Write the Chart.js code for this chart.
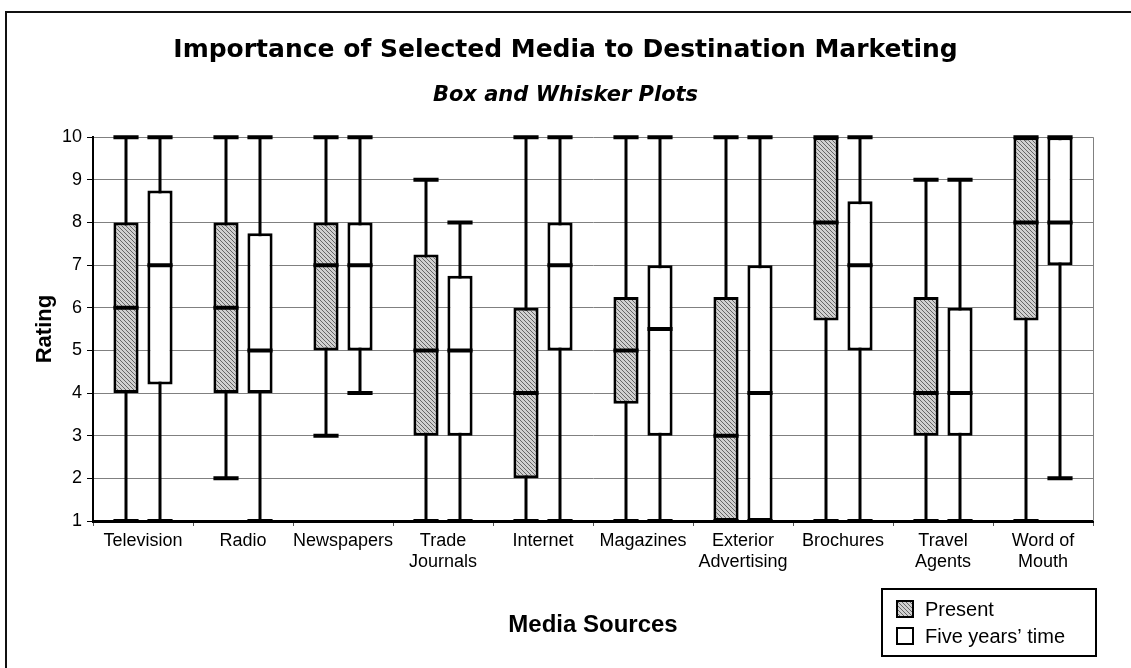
<!DOCTYPE html>
<html>
<head>
<meta charset="utf-8">
<title>Importance of Selected Media to Destination Marketing</title>
<script src="https://cdn.jsdelivr.net/npm/chart.js@4.4.1/dist/chart.umd.min.js"></script>
<style>
  html, body { margin: 0; padding: 0; overflow: hidden; background: #fff; }
  #frame {
    position: absolute; left: 5px; top: 11px;
    width: 1300px; height: 800px;
    border: 2px solid #111;
  }
  #wrap { position: absolute; left: 0; top: 0; width: 1131px; height: 668px; }
</style>
</head>
<body>
<div id="frame"></div>
<div id="wrap"><canvas id="boxChart"></canvas></div>
<script>
// Categorias e valores (escala 1 a 10)
const categories = ['Television', 'Radio', 'Newspapers', ['Trade', 'Journals'], 'Internet', 'Magazines',
    ['Exterior', 'Advertising'], 'Brochures', ['Travel', 'Agents'], ['Word of', 'Mouth']];

const presentMin    = [1, 2, 3, 1, 1, 1, 1, 1, 1, 1];
const presentQ1     = [4, 4, 5, 3, 2, 3.75, 1, 5.7, 3, 5.7];
const presentMedian = [6, 6, 7, 5, 4, 5, 3, 8, 4, 8];
const presentQ3     = [8, 8, 8, 7.25, 6, 6.25, 6.25, 10, 6.25, 10];
const presentMax    = [10, 10, 10, 9, 10, 10, 10, 10, 9, 10];

const futureMin    = [1, 1, 4, 1, 1, 1, 1, 1, 1, 2];
const futureQ1     = [4.2, 4, 5, 3, 5, 3, 1, 5, 3, 7];
const futureMedian = [7, 5, 7, 5, 7, 5.5, 4, 7, 4, 8];
const futureQ3     = [8.75, 7.75, 8, 6.75, 8, 7, 7, 8.5, 6, 10];
const futureMax    = [10, 10, 10, 8, 10, 10, 10, 10, 9, 10];

const yTicks = [1, 2, 3, 4, 5, 6, 7, 8, 9, 10];

const FONT = '"Liberation Sans", Arial, sans-serif';

// Hachura cinza diagonal para a série "Present"
function makeHatch() {
    const tile = document.createElement('canvas');
    tile.width = 4;
    tile.height = 4;
    const c = tile.getContext('2d');
    c.fillStyle = '#d0d0d0';
    c.fillRect(0, 0, 4, 4);
    c.fillStyle = '#666';
    for (let i = 0; i < 4; i++) c.fillRect(i, i, 1, 1);
    return c.createPattern(tile, 'repeat');
}
const hatch = makeHatch();

// Bigodes (atrás das caixas), tampas e medianas (à frente)
function drawBoxParts(chart, front) {
    const ctx = chart.ctx;
    const yScale = chart.scales.y;
    ctx.save();
    ctx.strokeStyle = '#000';
    ctx.lineCap = 'butt';
    chart.data.datasets.forEach((ds, di) => {
        const meta = chart.getDatasetMeta(di);
        meta.data.forEach((bar, i) => {
            const {x, width} = bar.getProps(['x', 'width'], true);
            const yMin = yScale.getPixelForValue(ds.stats.min[i]);
            const yMax = yScale.getPixelForValue(ds.stats.max[i]);
            const yMed = yScale.getPixelForValue(ds.stats.median[i]);
            ctx.beginPath();
            if (!front) {
                ctx.lineWidth = 3;
                ctx.moveTo(x, yMin);
                ctx.lineTo(x, yMax);
            } else {
                ctx.lineWidth = 4;
                ctx.moveTo(x - width / 2, yMin);
                ctx.lineTo(x + width / 2, yMin);
                ctx.moveTo(x - width / 2, yMax);
                ctx.lineTo(x + width / 2, yMax);
                ctx.moveTo(x - width / 2, yMed);
                ctx.lineTo(x + width / 2, yMed);
            }
            ctx.stroke();
        });
    });
    ctx.restore();
}

const boxWhiskers = {
    id: 'boxWhiskers',
    beforeDatasetsDraw(chart) { drawBoxParts(chart, false); },
    afterDatasetsDraw(chart) { drawBoxParts(chart, true); }
};

// Borda direita da área do gráfico + legenda com moldura
const frameAndLegend = {
    id: 'frameAndLegend',
    afterDraw(chart) {
        const ctx = chart.ctx;
        const area = chart.chartArea;
        ctx.save();
        ctx.strokeStyle = '#808080';
        ctx.lineWidth = 1;
        ctx.beginPath();
        ctx.moveTo(area.right + 0.5, area.top);
        ctx.lineTo(area.right + 0.5, area.bottom);
        ctx.stroke();

        const lx = 882, ly = 589, lw = 214, lh = 67;
        ctx.strokeStyle = '#000';
        ctx.lineWidth = 2;
        ctx.strokeRect(lx, ly, lw, lh);
        ctx.font = '20px ' + FONT;
        ctx.textBaseline = 'middle';
        chart.data.datasets.forEach((ds, i) => {
            const cy = ly + 20 + i * 27;
            ctx.fillStyle = ds.backgroundColor;
            ctx.fillRect(lx + 15, cy - 8, 16, 16);
            ctx.strokeRect(lx + 15, cy - 8, 16, 16);
            ctx.fillStyle = '#000';
            ctx.fillText(ds.label, lx + 43, cy + 1);
        });
        ctx.restore();
    }
};

new Chart(document.getElementById('boxChart'), {
    type: 'bar',
    data: {
        labels: categories,
        datasets: [{
            label: 'Present',
            data: presentQ1.map((q, i) => [q, presentQ3[i]]),
            stats: {min: presentMin, median: presentMedian, max: presentMax},
            backgroundColor: hatch,
            borderColor: '#000',
            borderWidth: 3,
            borderSkipped: false
        }, {
            label: 'Five years\u2019 time',
            data: futureQ1.map((q, i) => [q, futureQ3[i]]),
            stats: {min: futureMin, median: futureMedian, max: futureMax},
            backgroundColor: '#fff',
            borderColor: '#000',
            borderWidth: 3,
            borderSkipped: false
        }]
    },
    options: {
        responsive: true,
        maintainAspectRatio: false,
        animation: false,
        categoryPercentage: 0.68,
        barPercentage: 0.74,
        plugins: {
            legend: { display: false },
            tooltip: { enabled: false },
            title: {
                display: true,
                text: 'Importance of Selected Media to Destination Marketing',
                color: '#000',
                font: { family: '"DejaVu Sans", sans-serif', size: 25, weight: 'bold' },
                padding: { top: 35, bottom: 8 }
            },
            subtitle: {
                display: true,
                text: 'Box and Whisker Plots',
                color: '#000',
                font: { family: '"DejaVu Sans", sans-serif', size: 21, weight: 'bold', style: 'italic' },
                padding: { top: 10, bottom: 29 }
            }
        },
        scales: {
            x: {
                afterFit(scale) { scale.height = 147; },
                grid: { display: true, drawOnChartArea: false, offset: true, tickLength: 5, tickColor: '#555' },
                border: { color: '#000', width: 3 },
                ticks: {
                    color: '#000',
                    font: { family: FONT, size: 18 },
                    padding: 4,
                    autoSkip: false,
                    maxRotation: 0,
                    minRotation: 0
                },
                title: {
                    display: true,
                    text: 'Media Sources',
                    color: '#000',
                    font: { family: FONT, size: 24, weight: 'bold' },
                    padding: { top: 0, bottom: 28 }
                }
            },
            y: {
                min: 1,
                max: 10,
                afterFit(scale) { scale.width = 93; },
                afterBuildTicks(scale) { scale.ticks = yTicks.map(v => ({ value: v })); },
                grid: { color: '#808080', lineWidth: 1, tickLength: 6, tickColor: '#000' },
                border: { color: '#000', width: 2 },
                ticks: { color: '#000', font: { family: FONT, size: 18 }, padding: 5 },
                title: {
                    display: true,
                    text: 'Rating',
                    color: '#000',
                    font: { family: FONT, size: 22, weight: 'bold' },
                    padding: { top: 32, bottom: 0 }
                }
            },
            // eixo vazio à direita só para reservar a margem
            yRight: {
                position: 'right',
                afterFit(scale) { scale.width = 38; },
                grid: { display: false },
                border: { display: false },
                ticks: { display: false }
            }
        }
    },
    plugins: [boxWhiskers, frameAndLegend]
});
</script>
</body>
</html>
